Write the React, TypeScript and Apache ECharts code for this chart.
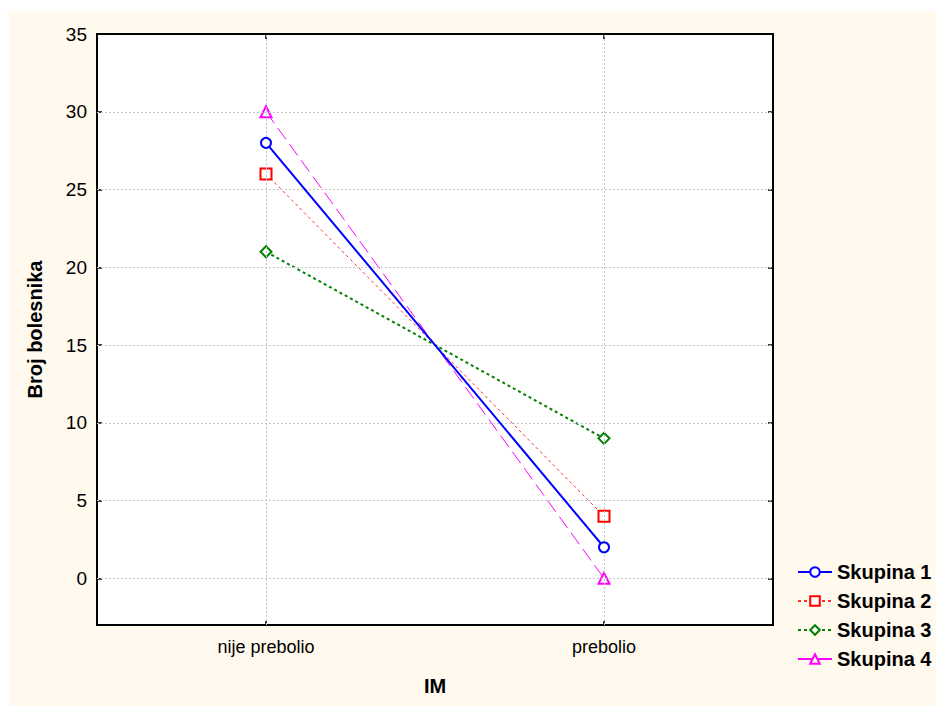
import React, { useEffect, useRef } from "react";
import * as echarts from "echarts";

const categories = ["nije prebolio", "prebolio"];
const yTicks = [0, 5, 10, 15, 20, 25, 30, 35];
const gridYValues = [0, 5, 10, 15, 20, 25, 30];
const skupina1 = [28, 2];
const skupina2 = [26, 4];
const skupina3 = [21, 9];
const skupina4 = [30, 0];
const seriesNames = ["Skupina 1", "Skupina 2", "Skupina 3", "Skupina 4"];

const FONT = "'Liberation Sans', Arial, sans-serif";

export default function App() {
  const ref = useRef<HTMLDivElement>(null);
  useEffect(() => {
    if (!ref.current) return;
    const chart = echarts.init(ref.current, undefined, { renderer: "svg" });
    const gridLineStyle = { color: "#c4c4c4", width: 1, type: [2, 2] as any };
    const option: any = {
      animation: false,
      backgroundColor: "transparent",
      graphic: [
        {
          type: "rect",
          z: -10,
          silent: true,
          shape: { x: 9, y: 11, width: 927, height: 695 },
          style: { fill: "#fff9ee" },
        },
      ],
      grid: {
        left: 97,
        top: 34,
        right: 163,
        bottom: 81,
        show: true,
        backgroundColor: "#ffffff",
        borderColor: "#000000",
        borderWidth: 2,
      },
      legend: {
        orient: "vertical",
        left: 797,
        top: 562,
        padding: 0,
        itemWidth: 34,
        itemHeight: 12,
        itemGap: 9,
        data: seriesNames,
        textStyle: { fontFamily: FONT, fontWeight: "bold", fontSize: 20, color: "#000" },
      },
      xAxis: [
        {
          type: "category",
          data: categories,
          boundaryGap: true,
          position: "bottom",
          axisLine: { show: false, onZero: false },
          axisTick: { show: true, inside: true, alignWithLabel: true, length: 4, lineStyle: { color: "#000", width: 1.5 } },
          axisLabel: { fontFamily: FONT, fontSize: 18, color: "#000", margin: 13 },
          splitLine: { show: false },
          name: "IM",
          nameLocation: "middle",
          nameGap: 51,
          nameTextStyle: { fontFamily: FONT, fontWeight: "bold", fontSize: 20, color: "#000" },
        },
        {
          type: "category",
          data: categories,
          boundaryGap: true,
          position: "top",
          axisLine: { show: false, onZero: false },
          axisTick: { show: true, inside: true, alignWithLabel: true, length: 5, lineStyle: { color: "#000", width: 1.5 } },
          axisLabel: { show: false },
          splitLine: { show: false },
        },
      ],
      yAxis: [
        {
          type: "value",
          min: -3,
          max: 35,
          position: "left",
          axisLine: { show: false, onZero: false },
          axisTick: { show: true, inside: true, length: 5, customValues: yTicks, lineStyle: { color: "#000", width: 1.5 } },
          axisLabel: { fontFamily: FONT, fontSize: 19, color: "#000", margin: 10, customValues: yTicks },
          splitLine: { show: false },
          name: "Broj bolesnika",
          nameLocation: "middle",
          nameGap: 52,
          nameTextStyle: { fontFamily: FONT, fontWeight: "bold", fontSize: 20, color: "#000" },
        },
        {
          type: "value",
          min: -3,
          max: 35,
          position: "right",
          axisLine: { show: false, onZero: false },
          axisTick: { show: true, inside: true, length: 5, customValues: yTicks, lineStyle: { color: "#000", width: 1.5 } },
          axisLabel: { show: false },
          splitLine: { show: false },
        },
      ],
      series: [
        {
          name: "grid",
          type: "line",
          data: [],
          silent: true,
          markLine: {
            silent: true,
            symbol: ["none", "none"],
            label: { show: false },
            lineStyle: gridLineStyle,
            data: [
              ...gridYValues.map((v) => ({ yAxis: v })),
              ...categories.map((c) => ({ xAxis: c })),
            ],
          },
          z: 1,
        },
        {
          name: seriesNames[0],
          type: "line",
          data: skupina1,
          symbol: "emptyCircle",
          symbolSize: 10,
          color: "#0000ff",
          lineStyle: { color: "#0000ff", width: 2, type: "solid" },
          itemStyle: { color: "#0000ff", borderColor: "#0000ff", borderWidth: 2 },
          z: 5,
        },
        {
          name: seriesNames[1],
          type: "line",
          data: skupina2,
          symbol: "emptyRect",
          symbolSize: 11,
          color: "#ff0000",
          lineStyle: { color: "#ff3030", width: 1, type: [3, 3] },
          itemStyle: { color: "#ff0000", borderColor: "#ff0000", borderWidth: 2 },
          z: 4,
        },
        {
          name: seriesNames[2],
          type: "line",
          data: skupina3,
          symbol: "emptyDiamond",
          symbolSize: 11,
          color: "#008000",
          lineStyle: { color: "#008000", width: 2, type: [3, 3] },
          itemStyle: { color: "#008000", borderColor: "#008000", borderWidth: 1.5 },
          z: 3,
        },
        {
          name: seriesNames[3],
          type: "line",
          data: skupina4,
          symbol: "emptyTriangle",
          symbolSize: 11,
          color: "#ff00ff",
          lineStyle: { color: "#ff00ff", width: 1, type: [14, 6] },
          itemStyle: { color: "#ff00ff", borderColor: "#ff00ff", borderWidth: 2 },
          z: 2,
        },
      ],
    };
    chart.setOption(option);
    return () => chart.dispose();
  }, []);
  return (
    <div
      ref={ref}
      style={{ position: "absolute", left: 0, top: 0, width: 936, height: 706 }}
    />
  );
}
